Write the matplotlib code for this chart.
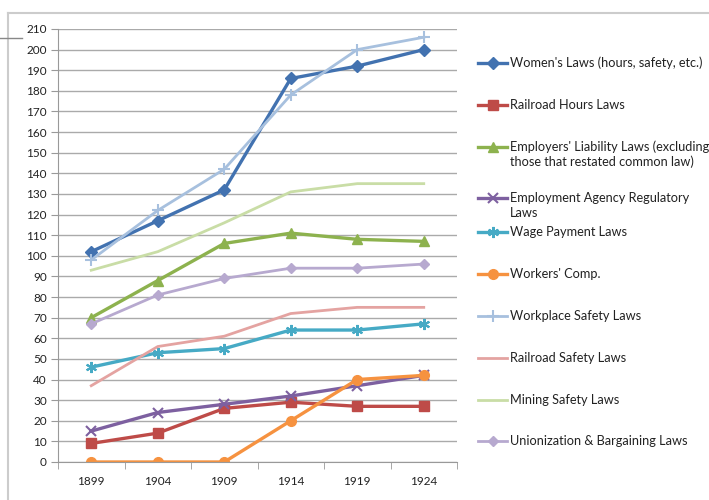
import numpy as np
import matplotlib.pyplot as plt
from matplotlib.lines import Line2D

plt.rcParams['font.family'] = ['Lato', 'DejaVu Sans']

###############################################################################
# data

years = ['1899', '1904', '1909', '1914', '1919', '1924']

womens_laws      = [102, 117, 132, 186, 192, 200]
railroad_hours   = [9, 14, 26, 29, 27, 27]
employers_liab   = [70, 88, 106, 111, 108, 107]
employment_agency = [15, 24, 28, 32, 37, 42]
wage_payment     = [46, 53, 55, 64, 64, 67]
workers_comp     = [0, 0, 0, 20, 40, 42]
workplace_safety = [98, 122, 142, 178, 200, 206]
railroad_safety  = [37, 56, 61, 72, 75, 75]
mining_safety    = [93, 102, 116, 131, 135, 135]
unionization     = [67, 81, 89, 94, 94, 96]

labels = ["Women's Laws (hours, safety, etc.)",
          "Railroad Hours Laws",
          "Employers' Liability Laws (excluding\nthose that restated common law)",
          "Employment Agency Regulatory\nLaws",
          "Wage Payment Laws",
          "Workers' Comp.",
          "Workplace Safety Laws",
          "Railroad Safety Laws",
          "Mining Safety Laws",
          "Unionization & Bargaining Laws"]

series = [womens_laws, railroad_hours, employers_liab, employment_agency,
          wage_payment, workers_comp, workplace_safety, railroad_safety,
          mining_safety, unionization]

###############################################################################
# styles (Excel 2007 look)

colors = ['#4272B0', '#BE4B48', '#8DB24E', '#7D60A0', '#46AAC5', '#F69240',
          '#A7C0DE', '#E4A3A1', '#C9DDA6', '#B7A9CF']
markers = ['D', 's', '^', 'x', (6, 2, 0), 'o', '+', None, None, 'D']
msizes = [6, 7, 7, 7, 8, 7, 8, 0, 0, 5]
lwidths = [2.4, 2.4, 2.4, 2.4, 2.4, 2.4, 2.0, 2.0, 2.0, 2.0]

W, H = 709, 500
fig = plt.figure(figsize=(W / 100, H / 100), dpi=100)
ax = fig.add_axes([58 / W, 38 / H, 399 / W, 433 / H])

x = np.arange(len(years))
for vals, lab, c, m, ms, lw in zip(series, labels, colors, markers, msizes, lwidths):
    ax.plot(x, vals, color=c, marker=m, markersize=ms, lw=lw,
            markeredgewidth=1.5 if m in ('x', '+', (6, 2, 0)) else 1,
            markeredgecolor=c, markerfacecolor=c, label=lab,
            solid_joinstyle='round')

ax.set_xlim(-0.5, len(years) - 0.5)
ax.set_ylim(0, 210)
ax.set_yticks(np.arange(0, 211, 10))
ax.set_xticks(x)
ax.set_xticklabels(years)
ax.set_xticks(np.arange(-0.5, len(years), 1), minor=True)
ax.tick_params(axis='x', which='major', length=0, pad=10, labelsize=8.5,
               colors='#222222')
ax.tick_params(axis='x', which='minor', length=5, color='#999999', direction='out')
ax.tick_params(axis='y', length=5, color='#999999', labelsize=8.5,
               labelcolor='#222222', pad=3)
ax.grid(axis='y', color='#AAAAAA', lw=1)
ax.set_axisbelow(True)
for s in ('top', 'right'):
    ax.spines[s].set_visible(False)
for s in ('left', 'bottom'):
    ax.spines[s].set_color('#999999')

###############################################################################
# legend, laid out like Excel does it (marker aligned with first text line)

leg_y = [63, 105, 147, 198, 232, 274, 316, 358, 400, 441]
for line, y in zip(ax.get_lines(), leg_y):
    yf = 1 - y / H
    fig.add_artist(Line2D([478 / W, 507 / W], [yf, yf], color=line.get_color(),
                          lw=line.get_linewidth()))
    if line.get_marker() not in (None, 'None', ''):
        fig.add_artist(Line2D([492.5 / W], [yf], marker=line.get_marker(),
                              markersize=line.get_markersize(),
                              color=line.get_color(),
                              markeredgewidth=line.get_markeredgewidth()))
    for k, txt in enumerate(line.get_label().split('\n')):
        fig.text(510 / W, 1 - (y + 15 * k) / H, txt, fontsize=9.2,
                 color='#222222', va='center', ha='left')

# outer chart frame
fig.add_artist(Line2D([8 / W, 8 / W], [0, 1 - 13 / H], color='#CCCCCC', lw=1.5))
fig.add_artist(Line2D([8 / W, 1], [1 - 13 / H, 1 - 13 / H], color='#CCCCCC', lw=1.5))
fig.add_artist(Line2D([0, 22 / W], [1 - 38 / H, 1 - 38 / H], color='#888888', lw=1))

fig.savefig('out.png', dpi=100)
